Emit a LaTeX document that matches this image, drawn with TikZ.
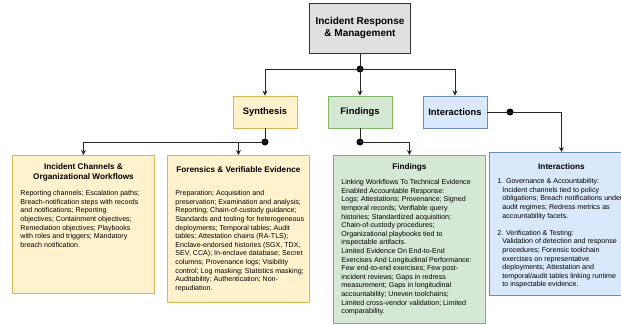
\documentclass[tikz,border=0pt]{standalone}
\usepackage{fontspec}
\setmainfont{Liberation Sans}
\usetikzlibrary{arrows.meta}

\definecolor{synfill}{HTML}{FFF2CC}
\definecolor{synline}{HTML}{D6B656}
\definecolor{fndfill}{HTML}{D5E8D4}
\definecolor{fndline}{HTML}{82B366}
\definecolor{intfill}{HTML}{DAE8FC}
\definecolor{intline}{HTML}{6C8EBF}
\definecolor{topfill}{HTML}{E0E0E0}

\newcommand{\titlefont}{\bfseries\fontsize{8.2}{10}\selectfont}
\newcommand{\bodyfont}{\fontsize{7.1}{8.6}\selectfont}

\tikzset{
  plain/.style={draw=black!85, line width=0.9pt},
  conn/.style={plain, -{Stealth[length=5pt,width=5pt]}},
  junc/.style={circle, fill=black, inner sep=0pt, minimum size=7pt},
  headbox/.style={draw=black!80, fill=topfill, line width=1pt, minimum width=101pt, minimum height=50pt, align=center, font=\bfseries\fontsize{10}{12.7}\selectfont},
  branchbox/.style={line width=0.9pt, minimum width=64pt, minimum height=32pt, font=\bfseries\fontsize{9.4}{11}\selectfont},
  detailbox/.style={line width=0.9pt, anchor=north west, inner xsep=8pt, inner ysep=0pt},
}

\begin{document}
\begin{tikzpicture}[x=1pt, y=-1pt]
  \useasboundingbox (0,0) rectangle (621,324);

  % top and branches
  \node[headbox] (top) at (360,28) {Incident Response\\ \& Management};
  \node[branchbox, draw=synline, fill=synfill] (syn) at (265,112) {Synthesis};
  \node[branchbox, draw=fndline, fill=fndfill] (fnd) at (360,112) {Findings};
  \node[branchbox, draw=intline, fill=intfill] (int) at (455,112) {Interactions};

  % detail boxes
  \node[detailbox, draw=synline, fill=synfill] (chan) at (12,155) {\parbox[t][138pt][t]{126pt}{%
    \vspace*{8pt}{\centering\titlefont Incident Channels \&\\ Organizational Workflows\par}
    \vspace{7.8pt}\raggedright\bodyfont
    \begin{tabular}[t]{@{}l@{}}
    Reporting channels; Escalation paths;\\
    Breach-notification steps with records\\
    and notifications; Reporting\\
    objectives; Containment objectives;\\
    Remediation objectives; Playbooks\\
    with roles and triggers; Mandatory\\
    breach notification.
    \end{tabular}}};

  \node[detailbox, draw=synline, fill=synfill] (foren) at (167,155) {\parbox[t][147pt][t]{126pt}{%
    \vspace*{11pt}{\centering\titlefont Forensics \& Verifiable Evidence\par}
    \vspace{14.8pt}\raggedright\bodyfont
    \begin{tabular}[t]{@{}l@{}}
    Preparation; Acquisition and\\
    preservation; Examination and analysis;\\
    Reporting; Chain-of-custody guidance;\\
    Standards and tooling for heterogeneous\\
    deployments; Temporal tables; Audit\\
    tables; Attestation chains (RA-TLS);\\
    Enclave-endorsed histories (SGX, TDX,\\
    SEV, CCA); In-enclave database; Secret\\
    columns; Provenance logs; Visibility\\
    control; Log masking; Statistics masking;\\
    Auditability; Authentication; Non-\\
    repudiation.
    \end{tabular}}};

  \node[detailbox, draw=fndline, fill=fndfill] (fdet) at (333,155) {\parbox[t][168pt][t]{136pt}{%
    \vspace*{8pt}{\centering\titlefont Findings\par}
    \vspace{6.8pt}\raggedright\bodyfont
    \begin{tabular}[t]{@{}l@{}}
    Linking Workflows To Technical Evidence\\
    Enabled Accountable Response:\\
    Logs; Attestations; Provenance; Signed\\
    temporal records; Verifiable query\\
    histories; Standardized acquisition;\\
    Chain-of-custody procedures;\\
    Organizational playbooks tied to\\
    inspectable artifacts.\\
    Limited Evidence On End-to-End\\
    Exercises And Longitudinal Performance:\\
    Few end-to-end exercises; Few post-\\
    incident reviews; Gaps in redress\\
    measurement; Gaps in longitudinal\\
    accountability; Uneven toolchains;\\
    Limited cross-vendor validation; Limited\\
    comparability.
    \end{tabular}}};

  \node[detailbox, draw=intline, fill=intfill] (idet) at (489,152) {\parbox[t][143pt][t]{128pt}{%
    \vspace*{11pt}{\centering\titlefont Interactions\par}
    \vspace{5.8pt}\raggedright\bodyfont
    \begin{tabular}[t]{@{}l@{}}
    1. Governance \& Accountability:\\
    \hspace*{5pt}Incident channels tied to policy\\
    \hspace*{5pt}obligations; Breach notifications under\\
    \hspace*{5pt}audit regimes; Redress metrics as\\
    \hspace*{5pt}accountability facets.\\[8.6pt]
    2. Verification \& Testing:\\
    \hspace*{5pt}Validation of detection and response\\
    \hspace*{5pt}procedures; Forensic toolchain\\
    \hspace*{5pt}exercises on representative\\
    \hspace*{5pt}deployments; Attestation and\\
    \hspace*{5pt}temporal/audit tables linking runtime\\
    \hspace*{5pt}to inspectable evidence.
    \end{tabular}}};

  % junctions
  \node[junc] (j0) at (360,69) {};
  \node[junc] (j1) at (265,142) {};
  \node[junc] (j2) at (360,142) {};
  \node[junc] (j3) at (510,112) {};

  % connectors
  \draw[plain] (top.south) -- (j0.center);
  \draw[conn] (j0.center) -| (syn.north);
  \draw[conn] (j0.center) -- (fnd.north);
  \draw[conn] (j0.center) -| (int.north);
  \draw[plain] (syn.south) -- (j1.center);
  \draw[conn] (j1.center) -| (chan.north);
  \draw[conn] (j1.center) -| (foren.north);
  \draw[plain] (fnd.south) -- (j2.center);
  \draw[conn] (j2.center) -| (fdet.north);
  \draw[plain] (int.east) -- (j3.center);
  \draw[conn] (j3.center) -| (idet.north);
\end{tikzpicture}
\end{document}
